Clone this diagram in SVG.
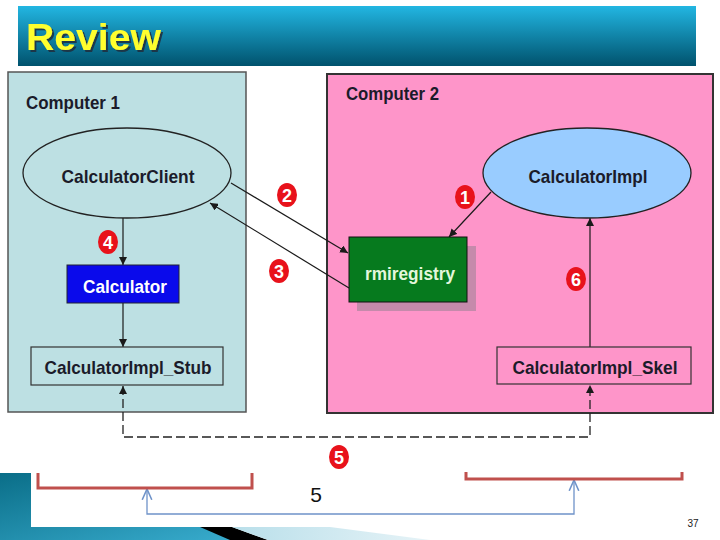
<svg xmlns="http://www.w3.org/2000/svg" width="720" height="540" viewBox="0 0 720 540">
<defs>
<linearGradient id="titleG" x1="0" y1="0" x2="0" y2="1">
<stop offset="0" stop-color="#22b6e2"/>
<stop offset="1" stop-color="#00526d"/>
</linearGradient>
<linearGradient id="tealG" x1="0" y1="0" x2="1" y2="1">
<stop offset="0" stop-color="#0a6e88"/>
<stop offset="1" stop-color="#3aaed0"/>
</linearGradient>
<linearGradient id="lightG" x1="0" y1="0" x2="1" y2="0">
<stop offset="0" stop-color="#b9dfea"/>
<stop offset="1" stop-color="#e6f3f7"/>
</linearGradient>
<filter id="tshadow" x="-10%" y="-20%" width="130%" height="150%">
<feDropShadow dx="2" dy="2" stdDeviation="0.6" flood-color="#1a3040" flood-opacity="0.9"/>
</filter>
<marker id="ah" viewBox="0 0 10 10" refX="10" refY="5" markerWidth="8" markerHeight="8" markerUnits="userSpaceOnUse" orient="auto-start-reverse">
<path d="M0,0 L10,5 L0,10 z" fill="#1a1a1a"/>
</marker>
<marker id="oh" viewBox="0 0 10 10" refX="9" refY="5" markerWidth="12" markerHeight="12" markerUnits="userSpaceOnUse" orient="auto-start-reverse">
<path d="M0,1 L9,5 L0,9" fill="none" stroke="#6f93c9" stroke-width="1.3"/>
</marker>
</defs>
<style>
.lbl{font-family:"Liberation Sans",Arial,sans-serif;font-weight:bold;fill:#1b1b2a}
.num{font-family:"Liberation Sans",Arial,sans-serif;font-weight:bold;fill:#fff;font-size:18px;text-anchor:middle}
.badge{fill:#e8121b}
.conn{stroke:#1a1a1a;stroke-width:1.2;fill:none}
.dash{stroke:#222;stroke-width:1.3;fill:none;stroke-dasharray:9,4}
.blue{stroke:#6f93c9;stroke-width:1.3;fill:none}
.brk{stroke:#c0504d;stroke-width:3;fill:none}
</style>
<rect width="720" height="540" fill="#ffffff"/>

<g id="title">
<rect x="18" y="6" width="678" height="60" fill="url(#titleG)"/>
<text x="26" y="50" font-family="Liberation Sans,Arial,sans-serif" font-weight="bold" font-size="37" fill="#ffff2e" filter="url(#tshadow)" textLength="135" lengthAdjust="spacingAndGlyphs">Review</text>
</g>

<g id="computer1">
<rect x="8" y="72" width="238" height="340" fill="#bde0e3" stroke="#555" stroke-width="1.5"/>
<text class="lbl" x="26" y="109" font-size="18" textLength="94" lengthAdjust="spacingAndGlyphs">Computer 1</text>
</g>

<g id="computer2">
<rect x="327" y="74" width="386" height="339" fill="#fe95c9" stroke="#333" stroke-width="2"/>
<text class="lbl" x="346" y="100" font-size="18" textLength="93" lengthAdjust="spacingAndGlyphs">Computer 2</text>
</g>

<g id="connectors">
<line class="conn" x1="123" y1="217" x2="123" y2="265" marker-end="url(#ah)"/>
<line class="conn" x1="123" y1="303" x2="123" y2="347" marker-end="url(#ah)"/>
<line class="conn" x1="590" y1="347" x2="590" y2="218" marker-end="url(#ah)"/>
<line class="conn" x1="491" y1="192" x2="449" y2="237" marker-end="url(#ah)"/>
<line class="conn" x1="231" y1="183" x2="348" y2="253" marker-end="url(#ah)"/>
<line class="conn" x1="349" y1="288" x2="210" y2="203" marker-end="url(#ah)"/>
<path class="dash" d="M123,386 V437 H590 V385" marker-start="url(#ah)" marker-end="url(#ah)"/>
<path class="blue" d="M147,489 V514 H574 V480" marker-start="url(#oh)" marker-end="url(#oh)"/>
</g>

<g id="CalculatorClient">
<ellipse cx="127" cy="173" rx="104" ry="45" fill="#bde0e3" stroke="#222" stroke-width="1.3"/>
<text class="lbl" x="128" y="183" font-size="19" text-anchor="middle" textLength="133" lengthAdjust="spacingAndGlyphs">CalculatorClient</text>
</g>

<g id="CalculatorImpl">
<ellipse cx="587" cy="173" rx="104" ry="45" fill="#99ccff" stroke="#222" stroke-width="1.3"/>
<text class="lbl" x="588" y="183" font-size="19" text-anchor="middle" textLength="119" lengthAdjust="spacingAndGlyphs">CalculatorImpl</text>
</g>

<g id="rmiregistry">
<rect x="357" y="246" width="119" height="65" fill="#c58aab"/>
<rect x="349" y="237" width="118" height="65" fill="#067a1e" stroke="#111" stroke-width="1"/>
<text x="410" y="280" font-family="Liberation Sans,Arial,sans-serif" font-weight="bold" font-size="18" fill="#e4f7dc" text-anchor="middle" textLength="90" lengthAdjust="spacingAndGlyphs">rmiregistry</text>
</g>

<g id="Calculator">
<rect x="67" y="265" width="112" height="38" fill="#0a0aeb" stroke="#223" stroke-width="1"/>
<text x="125" y="293" font-family="Liberation Sans,Arial,sans-serif" font-weight="bold" font-size="19" fill="#ffffff" text-anchor="middle" textLength="84" lengthAdjust="spacingAndGlyphs">Calculator</text>
</g>

<g id="CalculatorImpl_Stub">
<rect x="31" y="347" width="192" height="38" fill="#bde0e3" stroke="#333" stroke-width="1.2"/>
<text class="lbl" x="128" y="374" font-size="19" text-anchor="middle" textLength="167" lengthAdjust="spacingAndGlyphs">CalculatorImpl_Stub</text>
</g>

<g id="CalculatorImpl_Skel">
<rect x="497" y="347" width="194" height="37" fill="#fe95c9" stroke="#333" stroke-width="1.2"/>
<text class="lbl" x="595" y="374" font-size="19" text-anchor="middle" textLength="165" lengthAdjust="spacingAndGlyphs">CalculatorImpl_Skel</text>
</g>

<g id="badges">
<ellipse class="badge" cx="465" cy="197" rx="10" ry="12"/><text class="num" x="465" y="204">1</text>
<ellipse class="badge" cx="287" cy="195" rx="10" ry="12"/><text class="num" x="287" y="202">2</text>
<ellipse class="badge" cx="279" cy="271" rx="10" ry="12"/><text class="num" x="279" y="278">3</text>
<ellipse class="badge" cx="108" cy="242" rx="10" ry="12"/><text class="num" x="108" y="249">4</text>
<ellipse class="badge" cx="339" cy="457" rx="10" ry="12"/><text class="num" x="339" y="464">5</text>
<ellipse class="badge" cx="576" cy="279" rx="10" ry="12"/><text class="num" x="576" y="286">6</text>
</g>

<g id="footer">
<polygon points="0,473 31,473 31,527 225,527 255,540 0,540" fill="url(#tealG)"/>
<polygon points="200,527 232,527 268,540 230,540" fill="#000"/>
<polygon points="232,527 330,527 430,540 268,540" fill="url(#lightG)"/>
<path class="brk" d="M38,473 V488 H252 V473"/>
<path class="brk" d="M466,472 V479 H682 V472"/>
<text x="316" y="502" font-family="Liberation Sans,Arial,sans-serif" font-size="21" fill="#111" text-anchor="middle">5</text>
<text x="693" y="527" font-family="Liberation Sans,Arial,sans-serif" font-size="10" fill="#222" text-anchor="middle">37</text>
</g>
</svg>
